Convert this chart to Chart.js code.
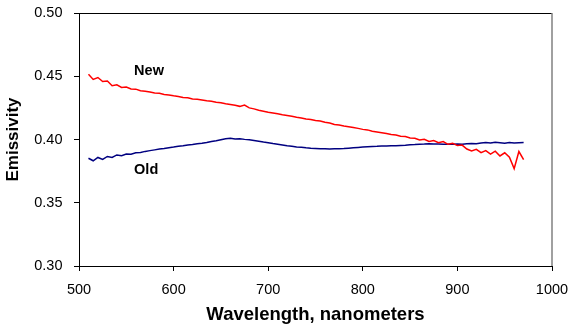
<!DOCTYPE html>
<html>
<head>
<meta charset="utf-8">
<script src="https://cdn.jsdelivr.net/npm/chart.js@4.4.1/dist/chart.umd.min.js"></script>
<style>
html,body{margin:0;padding:0;background:#fff;}
canvas{display:block;}
</style>
</head>
<body>
<canvas id="c" width="570" height="328"></canvas>
<script>
// Wavelengths (nm), 5 nm spacing from 510 to 970
const wavelengths = [
510,515,520,525,530,535,540,545,550,555,560,565,570,575,580,585,590,595,600,605,
610,615,620,625,630,635,640,645,650,655,660,665,670,675,680,685,690,695,700,705,
710,715,720,725,730,735,740,745,750,755,760,765,770,775,780,785,790,795,800,805,
810,815,820,825,830,835,840,845,850,855,860,865,870,875,880,885,890,895,900,905,
910,915,920,925,930,935,940,945,950,955,960,965,970];

const newValues = [
0.4515,0.4475,0.4490,0.4458,0.4462,0.4425,0.4432,0.4412,0.4415,0.4400,0.4398,0.4385,0.4382,0.4375,0.4368,0.4365,0.4355,0.4352,0.4345,0.4340,
0.4332,0.4330,0.4320,0.4318,0.4312,0.4306,0.4302,0.4294,0.4290,0.4282,0.4276,0.4270,0.4262,0.4272,0.4250,0.4242,0.4232,0.4224,0.4215,0.4210,
0.4203,0.4196,0.4190,0.4184,0.4176,0.4170,0.4162,0.4158,0.4150,0.4146,0.4136,0.4130,0.4118,0.4114,0.4106,0.4100,0.4094,0.4088,0.4080,0.4076,
0.4066,0.4060,0.4054,0.4048,0.4040,0.4036,0.4026,0.4024,0.4012,0.4010,0.3996,0.4002,0.3984,0.3992,0.3974,0.3984,0.3962,0.3970,0.3952,0.3956,
0.3925,0.3910,0.3922,0.3896,0.3912,0.3885,0.3908,0.3870,0.3895,0.3860,0.3770,0.3905,0.3840];

const oldValues = [
0.3852,0.3832,0.3858,0.3843,0.3866,0.3858,0.3878,0.3872,0.3885,0.3884,0.3895,0.3898,0.3906,0.3912,0.3918,0.3924,0.3928,0.3935,0.3940,0.3946,
0.3950,0.3956,0.3960,0.3966,0.3970,0.3976,0.3984,0.3990,0.3998,0.4006,0.4010,0.4004,0.4006,0.4001,0.3998,0.3992,0.3986,0.3980,0.3975,0.3968,
0.3962,0.3956,0.3950,0.3946,0.3941,0.3938,0.3934,0.3931,0.3929,0.3927,0.3926,0.3925,0.3926,0.3926,0.3928,0.3931,0.3934,0.3937,0.3940,0.3943,
0.3945,0.3946,0.3948,0.3949,0.3950,0.3951,0.3953,0.3955,0.3958,0.3960,0.3963,0.3964,0.3966,0.3965,0.3965,0.3963,0.3962,0.3963,0.3964,0.3963,
0.3966,0.3968,0.3966,0.3972,0.3976,0.3972,0.3978,0.3974,0.3970,0.3976,0.3972,0.3974,0.3976];

const seriesNames = ['New', 'Old'];
const xTitle = 'Wavelength, nanometers';
const yTitle = 'Emissivity';
// Annotation anchors in data coordinates [wavelength, emissivity]
const labelAnchors = [[574, 0.4542], [571, 0.3755]];

const toPoints = (vals) => wavelengths.map((w, i) => ({x: w, y: vals[i]}));

const FONT = "Arial, 'Liberation Sans', sans-serif";

const decor = {
  id: 'decor',
  afterDraw(chart) {
    const {ctx, chartArea: a, scales} = chart;
    ctx.save();
    ctx.strokeStyle = '#000';
    ctx.lineWidth = 1;
    ctx.beginPath();
    ctx.moveTo(a.left, a.top + 0.5);
    ctx.lineTo(a.right, a.top + 0.5);
    ctx.stroke();
    ctx.strokeStyle = '#808080';
    ctx.lineWidth = 1.5;
    ctx.beginPath();
    ctx.moveTo(a.right, a.top);
    ctx.lineTo(a.right, a.bottom);
    ctx.stroke();
    ctx.fillStyle = '#000';
    ctx.font = 'bold 14.5px ' + FONT;
    ctx.textAlign = 'center';
    ctx.textBaseline = 'middle';
    seriesNames.forEach((n, i) => {
      const [wx, wy] = labelAnchors[i];
      ctx.fillText(n, scales.x.getPixelForValue(wx), scales.y.getPixelForValue(wy));
    });
    ctx.restore();
  }
};

new Chart(document.getElementById('c'), {
  type: 'line',
  data: {
    datasets: [
      {label: seriesNames[0], data: toPoints(newValues), borderColor: '#FF0000', borderWidth: 1.5, pointRadius: 0, tension: 0, fill: false},
      {label: seriesNames[1], data: toPoints(oldValues), borderColor: '#000080', borderWidth: 1.5, pointRadius: 0, tension: 0, fill: false}
    ]
  },
  options: {
    responsive: false,
    animation: false,
    layout: {padding: {top: 13, right: 18, left: 0, bottom: 0}},
    plugins: {legend: {display: false}, tooltip: {enabled: false}},
    scales: {
      x: {
        type: 'linear', min: 500, max: 1000,
        afterFit(s) { s.height = 62; s.paddingRight = 0; s.paddingLeft = 0; },
        ticks: {stepSize: 100, color: '#000', padding: 10, maxRotation: 0, font: {family: FONT, size: 14.5}, callback: (v) => String(v)},
        grid: {drawOnChartArea: false, drawTicks: true, tickLength: 5, tickColor: '#000', color: '#000'},
        border: {display: true, color: '#000', width: 1},
        title: {display: true, text: xTitle, color: '#000', font: {family: FONT, size: 18.5, weight: 'bold', lineHeight: 1.2}, padding: {top: 0, bottom: 1.5}}
      },
      y: {
        min: 0.30, max: 0.50,
        afterFit(s) { s.width = 79; s.paddingTop = 0; s.paddingBottom = 0; },
        ticks: {stepSize: 0.05, color: '#000', padding: 11.5, font: {family: FONT, size: 14.5}, callback: (v) => v.toFixed(2)},
        grid: {drawOnChartArea: false, drawTicks: true, tickLength: 5, tickColor: '#000', color: '#000'},
        border: {display: true, color: '#000', width: 1},
        title: {display: true, text: yTitle, color: '#000', font: {family: FONT, size: 17, weight: 'bold', lineHeight: 1.2}, padding: {top: 3, bottom: 0}}
      }
    }
  },
  plugins: [decor]
});
</script>
</body>
</html>
